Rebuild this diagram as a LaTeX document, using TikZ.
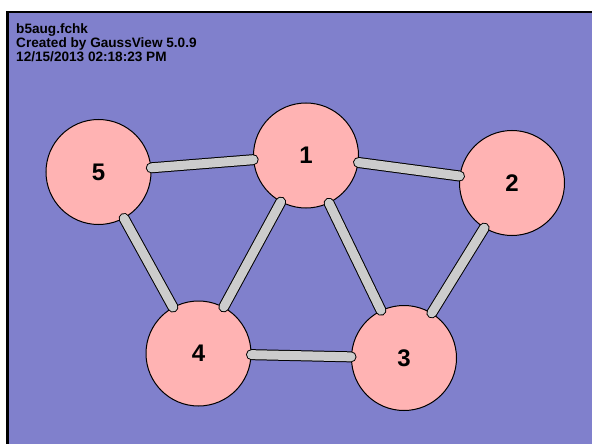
\documentclass[tikz,border=0pt]{standalone}
\usepackage{fontspec}
\setmainfont{Liberation Sans}
\definecolor{bgblue}{RGB}{128,128,204}
\definecolor{atompink}{RGB}{255,179,179}
\definecolor{bondgray}{RGB}{204,204,204}
\begin{document}
\begin{tikzpicture}[x=1pt,y=-1pt,
	atom/.style={circle,draw=black,line width=1pt,fill=atompink,minimum size=105pt,inner sep=0pt,font=\fontsize{24}{24}\selectfont\bfseries},
	bond/.style={draw=black,line width=1pt,double=bondgray,double distance=9pt,line cap=round},
	hdr/.style={anchor=base west,inner sep=0pt,font=\fontsize{13.6}{13.6}\selectfont\bfseries}]
	\useasboundingbox (0,0) rectangle (592,444);
	\fill[white] (0,0) rectangle (592,444);
	\fill[bgblue] (7.5,12) rectangle (592,444);
	\draw[line width=2.8pt] (7.5,444)--(7.5,12)--(592,12);
	% file info
	\node[hdr] (file) at (16,34) {b5aug.fchk};
	\node[hdr] (prog) at (16,47.6) {Created by GaussView 5.0.9};
	\node[hdr] (date) at (16,61.2) {12/15/2013 02:18:23 PM};
	% atoms
	\node[atom] (a1) at (306,155.5) {1};
	\node[atom] (a2) at (512,183) {2};
	\node[atom] (a3) at (404,358) {3};
	\node[atom] (a4) at (198.5,353.5) {4};
	\node[atom] (a5) at (98.5,172) {5};
	% bonds
	\draw[bond] (a5)--(a1);
	\draw[bond] (a1)--(a2);
	\draw[bond] (a1)--(a4);
	\draw[bond] (a1)--(a3);
	\draw[bond] (a2)--(a3);
	\draw[bond] (a4)--(a3);
	\draw[bond] (a5)--(a4);
\end{tikzpicture}
\end{document}
